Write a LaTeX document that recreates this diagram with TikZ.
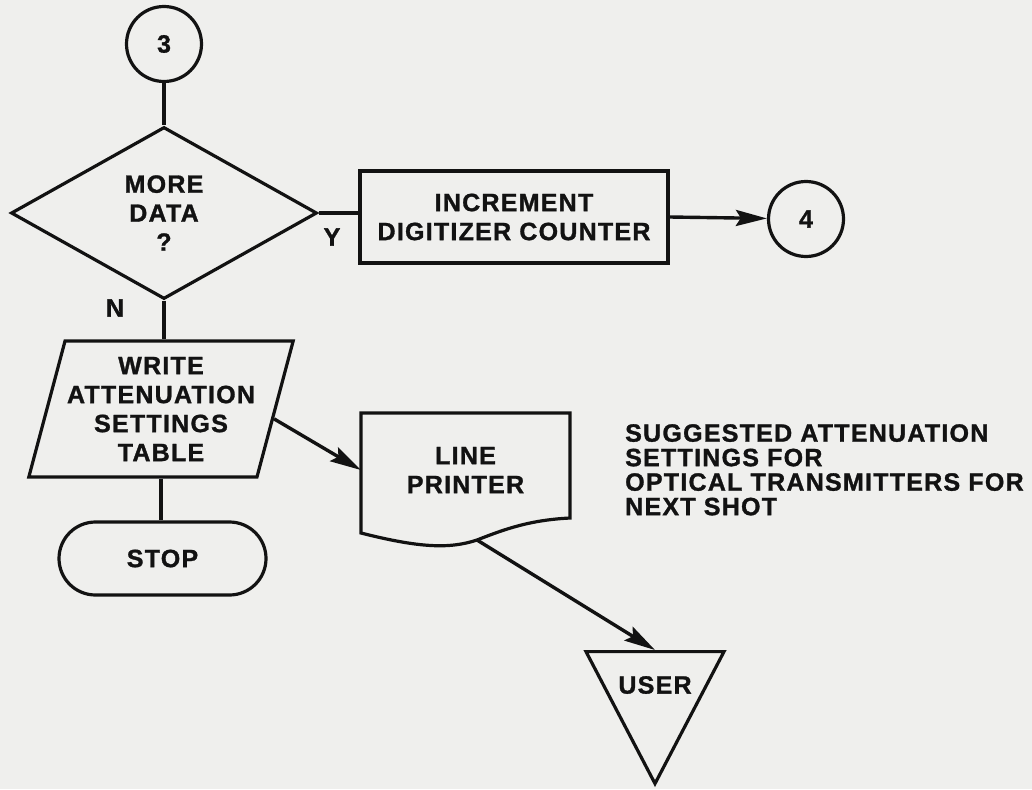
\documentclass[tikz,border=0pt]{standalone}
\usepackage{fontspec}
\setmainfont{Liberation Sans}[LetterSpace=5, BoldFeatures={FakeBold=1.2}]
\usetikzlibrary{shapes.geometric,shapes.misc,arrows.meta}

\definecolor{paper}{RGB}{239,239,237}
\definecolor{ink}{RGB}{18,18,18}

\begin{document}
\begin{tikzpicture}[x=1pt,y=-1pt,
  every node/.style={font=\bfseries\fontsize{25}{29}\selectfont, text=ink, align=center, inner sep=2pt},
  flow/.style={draw=ink, line width=3.4pt},
  arrowed/.style={flow, -{Stealth[length=31pt,width=16pt,inset=5pt]}},
  outline/.style={draw=ink, line width=3.2pt, line join=miter},
  connector/.style={outline, circle, minimum size=75pt, inner sep=0pt},
  decision/.style={outline, diamond, minimum width=306pt, minimum height=172pt, inner sep=0pt},
  process/.style={outline, rectangle, minimum width=308pt, minimum height=92pt},
  io/.style={outline, trapezium, trapezium left angle=71.5, trapezium right angle=108.5,
             trapezium stretches=true, minimum width=262pt, minimum height=136pt},
  terminal/.style={outline, rounded rectangle, minimum width=211pt, minimum height=73pt},
  sink/.style={outline, isosceles triangle, shape border rotate=-90,
               isosceles triangle stretches, minimum width=138pt, minimum height=132pt, inner sep=0pt},
  note/.style={font=\bfseries\fontsize{25}{24.5}\selectfont, align=left, inner sep=0pt, anchor=north west}
]
% paper
\fill[paper] (0,0) rectangle (1032,789);
\useasboundingbox (0,0) rectangle (1032,789);

% flowchart symbols
\node[connector] (c3) at (164,44) {3};
\node[decision] (more) at (164,213) {MORE\\DATA\\?};
\node[process] (incr) at (514,217) {INCREMENT\\DIGITIZER COUNTER};
\node[connector] (c4) at (806,219) {4};
\node[io] (write) at (161,409) {WRITE\\ATTENUATION\\SETTINGS\\TABLE};
\node[terminal] (stop) at (162.5,558.5) {STOP};

% line printer (document symbol with wavy lower edge)
\node[minimum width=209pt, minimum height=114pt] (printer) at (465.5,470) {LINE\\PRINTER};
\draw[outline] (361,413) -- (570,413) -- (570,518)
  .. controls (530,520) and (505,529) .. (477,540) coordinate (pout)
  .. controls (450,549) and (420,548) .. (361,533) -- cycle;

% user (inverted triangle)
\node[sink, anchor=lower side] (user) at (655,650) {};
\node (usertext) at (655,685) {USER};

% branch labels
\node (ylab) at (332,237) {Y};
\node (nlab) at (115,308) {N};

% annotation
\node[note] (remark) at (625,424) {SUGGESTED ATTENUATION\\SETTINGS FOR\\OPTICAL TRANSMITTERS FOR\\NEXT SHOT};

% connectors
\draw[flow] (c3) -- (more);
\draw[flow] (more.east) -- (more.east -| incr.west);
\draw[arrowed] (incr.east) -- (c4);
\draw[flow] (more.south) -- (more.south |- write.north);
\draw[flow] (write.south) -- (write.south |- stop.north);
\draw[arrowed] (write.-5.7) -- (printer.west);
\draw[arrowed] (pout) -- (user.lower side);
\end{tikzpicture}
\end{document}
